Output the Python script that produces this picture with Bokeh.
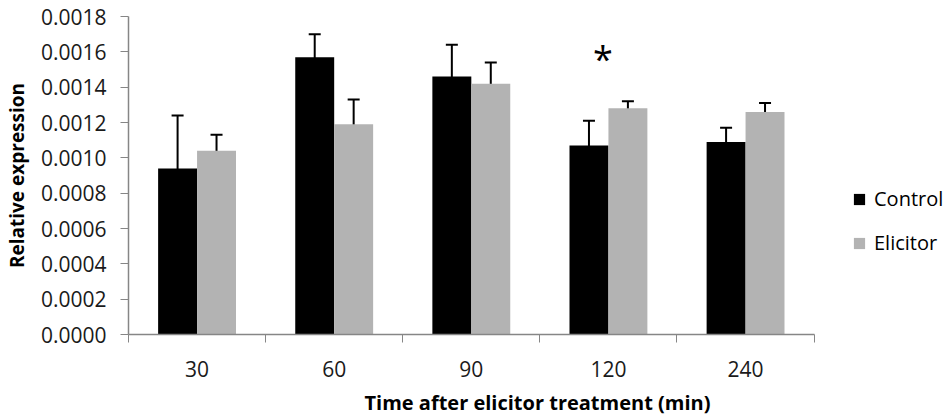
from bokeh.plotting import figure
from bokeh.models import (ColumnDataSource, Range1d, FixedTicker, NumeralTickFormatter,
                          Whisker, TeeHead, Legend, LegendItem)
from bokeh.transform import dodge
from bokeh.core.properties import value
from bokeh.embed import file_html
from bokeh.resources import INLINE

# ---- data ----
times = ["30", "60", "90", "120", "240"]
control = [0.00094, 0.00157, 0.00146, 0.00107, 0.00109]
control_err = [0.00030, 0.00013, 0.00018, 0.00014, 0.00008]
elicitor = [0.00104, 0.00119, 0.00142, 0.00128, 0.00126]
elicitor_err = [0.00009, 0.00014, 0.00012, 0.00004, 0.00005]
y_ticks = [0.0, 0.0002, 0.0004, 0.0006, 0.0008, 0.0010, 0.0012, 0.0014, 0.0016, 0.0018]
star_time = "120"
star_level = 0.00156

FONT = "Open Sans"
n = len(times)
idx = [i + 0.5 for i in range(n)]
src = ColumnDataSource(dict(
    x=idx, control=control, elicitor=elicitor,
    c_up=[v + e for v, e in zip(control, control_err)],
    c_lo=[v - e for v, e in zip(control, control_err)],
    e_up=[v + e for v, e in zip(elicitor, elicitor_err)],
    e_lo=[v - e for v, e in zip(elicitor, elicitor_err)],
))

# frame spans to the right edge so the legend can sit beside the axis;
# the axis itself is bounded to the categories
p = figure(width=946, height=418, output_backend="svg", toolbar_location=None,
           x_range=Range1d(0, n * 820 / 687.3), y_range=Range1d(y_ticks[0], y_ticks[-1]),
           min_border_left=126, min_border_right=0, min_border_top=16, min_border_bottom=82)
p.outline_line_color = None
p.grid.visible = False
p.background_fill_color = "white"
p.border_fill_color = "white"

BW = 0.284
r1 = p.vbar(x=dodge("x", -BW / 2), top="control", width=BW, source=src,
            fill_color="#000000", line_color=None)
r2 = p.vbar(x=dodge("x", BW / 2), top="elicitor", width=BW, source=src,
            fill_color="#b3b3b3", line_color=None)

for up, lo, off in [("c_up", "c_lo", -BW / 2), ("e_up", "e_lo", BW / 2)]:
    w = Whisker(base=dodge("x", off), upper=up, lower=lo, source=src,
                line_color="black", line_width=2,
                upper_head=TeeHead(size=12, line_width=2, line_color="black"),
                lower_head=TeeHead(size=12, line_width=2, line_color="black"))
    p.add_layout(w)

# significance asterisk
p.text(x=[times.index(star_time) + 0.46], y=[star_level], text=["*"],
       text_font=value(FONT), text_font_size="36px", text_align="center",
       text_baseline="alphabetic", text_color="black")

# axes
ax = p.xaxis[0]
ax.bounds = (0, n)
ax.ticker = FixedTicker(ticks=idx, minor_ticks=list(range(n + 1)))
ax.major_label_overrides = {x: t for x, t in zip(idx, times)}
ax.major_tick_line_color = None
ax.major_tick_out = 0
ax.major_tick_in = 0
ax.minor_tick_out = 8
ax.minor_tick_in = 0
ax.minor_tick_line_color = "#868686"
ax.axis_line_color = "#868686"
ax.axis_line_width = 1.5
ax.major_label_text_font = FONT
ax.major_label_text_font_size = "21px"
ax.major_label_text_color = "#1a1a1a"
ax.major_label_standoff = 18
ax.axis_label = "Time after elicitor treatment (min)"
ax.axis_label_text_font = FONT
ax.axis_label_text_font_size = "20px"
ax.axis_label_text_font_style = "bold"
ax.axis_label_text_color = "black"
ax.axis_label_standoff = 9

ay = p.yaxis[0]
ay.ticker = FixedTicker(ticks=y_ticks)
ay.formatter = NumeralTickFormatter(format="0.0000")
ay.major_tick_out = 8
ay.major_tick_in = 0
ay.minor_tick_line_color = None
ay.major_tick_line_color = "#868686"
ay.axis_line_color = "#868686"
ay.axis_line_width = 1.5
ay.major_label_text_font = FONT
ay.major_label_text_font_size = "21px"
ay.major_label_text_color = "#1a1a1a"
ay.major_label_standoff = 14
ay.axis_label = "Relative expression"
ay.axis_label_text_font = FONT
ay.axis_label_text_font_size = "19px"
ay.axis_label_text_font_style = "bold"
ay.axis_label_text_color = "black"
ay.axis_label_standoff = 8

legend = Legend(items=[LegendItem(label="Control", renderers=[r1]),
                       LegendItem(label="Elicitor", renderers=[r2])],
                location=(724, 78), orientation="vertical",
                glyph_width=14, glyph_height=14, label_standoff=8,
                label_text_font=FONT, label_text_font_size="20px", label_text_color="black",
                spacing=17, padding=0, margin=0,
                border_line_color=None, background_fill_alpha=0)
p.add_layout(legend, "center")

open("out.html", "w").write(file_html(p, INLINE))
